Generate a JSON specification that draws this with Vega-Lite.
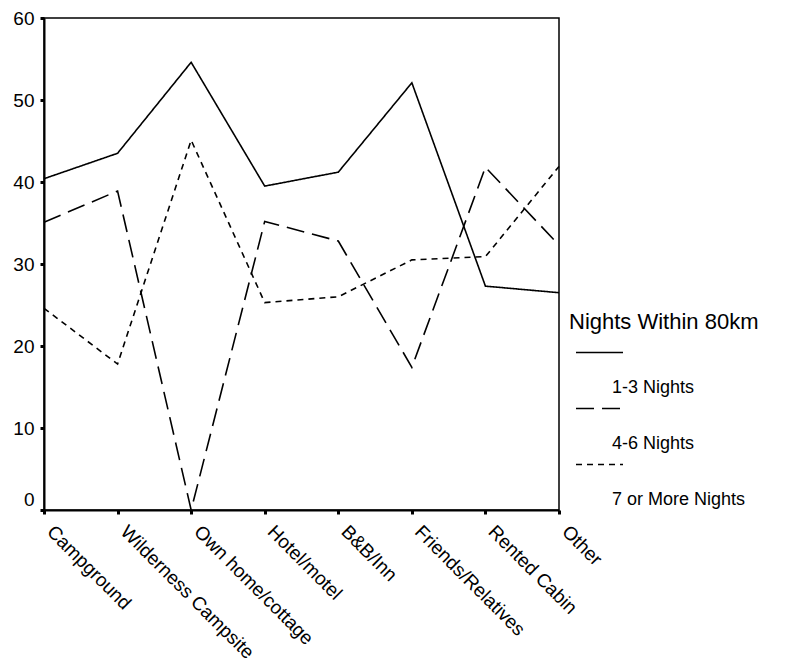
{
  "$schema": "https://vega.github.io/schema/vega-lite/v6.json",
  "autosize": "none",
  "width": 515,
  "height": 492,
  "padding": {"left": 44, "top": 18, "right": 228, "bottom": 150},
  "background": "white",
  "config": {
    "font": "Liberation Sans",
    "view": {"stroke": "black", "strokeWidth": 1.5},
    "axis": {"grid": false, "domainColor": "black", "domainWidth": 2, "tickColor": "black", "tickWidth": 3, "tickSize": 4, "labelColor": "black", "labelFont": "Liberation Sans", "title": null}
  },
  "data": {
    "values": [
      {"type": "Campground", "nights": "1-3 Nights", "pct": 40.4},
      {"type": "Wilderness Campsite", "nights": "1-3 Nights", "pct": 43.5},
      {"type": "Own home/cottage", "nights": "1-3 Nights", "pct": 54.6},
      {"type": "Hotel/motel", "nights": "1-3 Nights", "pct": 39.5},
      {"type": "B&B/Inn", "nights": "1-3 Nights", "pct": 41.2},
      {"type": "Friends/Relatives", "nights": "1-3 Nights", "pct": 52.1},
      {"type": "Rented Cabin", "nights": "1-3 Nights", "pct": 27.3},
      {"type": "Other", "nights": "1-3 Nights", "pct": 26.5},
      {"type": "Campground", "nights": "4-6 Nights", "pct": 35.1},
      {"type": "Wilderness Campsite", "nights": "4-6 Nights", "pct": 38.9},
      {"type": "Own home/cottage", "nights": "4-6 Nights", "pct": 0},
      {"type": "Hotel/motel", "nights": "4-6 Nights", "pct": 35.2},
      {"type": "B&B/Inn", "nights": "4-6 Nights", "pct": 32.8},
      {"type": "Friends/Relatives", "nights": "4-6 Nights", "pct": 17.4},
      {"type": "Rented Cabin", "nights": "4-6 Nights", "pct": 41.8},
      {"type": "Other", "nights": "4-6 Nights", "pct": 32.3},
      {"type": "Campground", "nights": "7 or More Nights", "pct": 24.6},
      {"type": "Wilderness Campsite", "nights": "7 or More Nights", "pct": 17.8},
      {"type": "Own home/cottage", "nights": "7 or More Nights", "pct": 45.1},
      {"type": "Hotel/motel", "nights": "7 or More Nights", "pct": 25.3},
      {"type": "B&B/Inn", "nights": "7 or More Nights", "pct": 26.0},
      {"type": "Friends/Relatives", "nights": "7 or More Nights", "pct": 30.5},
      {"type": "Rented Cabin", "nights": "7 or More Nights", "pct": 30.9},
      {"type": "Other", "nights": "7 or More Nights", "pct": 41.9}
    ]
  },
  "mark": {"type": "line", "color": "black", "strokeWidth": 1.6},
  "encoding": {
    "x": {
      "field": "type", "type": "nominal", "sort": null,
      "scale": {"type": "point", "padding": 0},
      "axis": {"labelAngle": 45, "labelAlign": "left", "labelBaseline": "top", "labelFontSize": 19, "labelPadding": 8, "labelOffset": 12, "labelLimit": 300}
    },
    "y": {
      "field": "pct", "type": "quantitative",
      "scale": {"domain": [0, 60], "nice": false},
      "axis": {"values": [0, 10, 20, 30, 40, 50, 60], "labelFontSize": 19, "labelPadding": 6,
        "labelOffset": {"condition": {"test": "datum.value == 0", "value": -11}, "value": 0}}
    },
    "strokeDash": {
      "field": "nights", "type": "nominal",
      "scale": {"domain": ["1-3 Nights", "4-6 Nights", "7 or More Nights"], "range": [[1, 0], [18, 8], [6, 5]]},
      "legend": {
        "orient": "none", "legendX": 525, "legendY": 294,
        "title": "Nights Within 80km", "titleFontSize": 22, "titleFontWeight": "normal", "titleColor": "black", "titlePadding": 9.5, "titleLimit": 400,
        "labelFontSize": 18, "labelColor": "black", "labelOffset": 25,
        "symbolType": "M-0.25,0H5.625", "symbolSize": 256, "symbolStrokeWidth": 1.6, "symbolStrokeColor": "black", "symbolFillColor": "transparent",
        "rowPadding": 3,
        "encode": {"labels": {"update": {"dy": {"value": 35}}}}
      }
    }
  }
}
